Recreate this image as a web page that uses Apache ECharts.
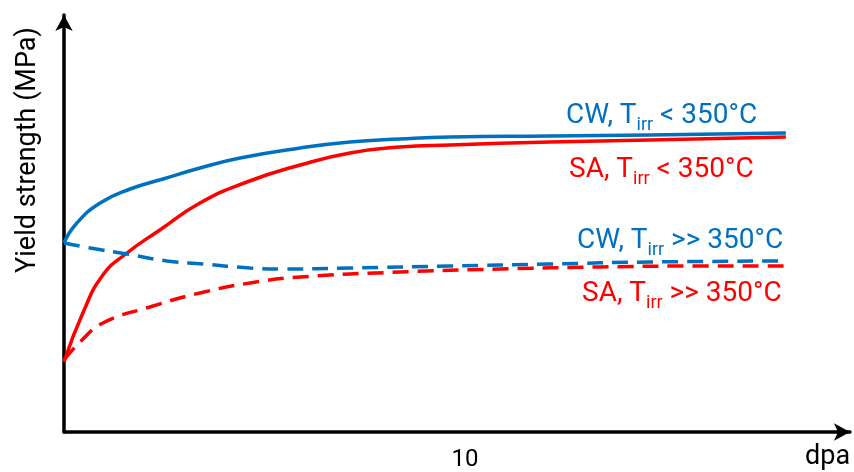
<!DOCTYPE html>
<html>
<head>
<meta charset="utf-8">
<script src="https://cdn.jsdelivr.net/npm/echarts@6/dist/echarts.min.js"></script>
<style>
  html, body { margin: 0; padding: 0; background: #fff; }
  #chart { width: 854px; height: 472px; }
</style>
</head>
<body>
<div id="chart"></div>
<script>
// [dpa, relative yield strength]
const cwLow = [[0, 189], [0.3, 208], [0.9, 229], [1.65, 243], [2.47, 253], [3.39, 264], [4.39, 274], [5.89, 284], [7.13, 290], [8.38, 293], [9.63, 295], [12.12, 296], [14.61, 297], [18.0, 299]];
const saLow = [[0, 70], [0.47, 119], [0.97, 157], [1.57, 179], [2.39, 202], [3.39, 229], [4.56, 250], [5.89, 267], [7.13, 279], [8.38, 285], [9.63, 287], [12.12, 290], [14.61, 292], [18.0, 295]];
const cwHigh = [[0, 189], [0.65, 184], [1.57, 178], [2.57, 171], [3.47, 168], [4.64, 164], [5.39, 163], [7.13, 164], [9.63, 166], [12.12, 168], [14.61, 170], [18.0, 171]];
const saHigh = [[0, 72], [0.45, 92], [0.97, 109], [2.14, 125], [3.39, 139], [4.64, 149], [5.89, 155], [8.38, 160], [10.87, 163], [13.37, 165], [15.86, 166], [18.0, 166]];
const xTicks = [10];

const BLUE = '#0070C0';
const RED = '#FF0000';
const FONT = 'Roboto, sans-serif';

const chart = echarts.init(document.getElementById('chart'));

function label(text, color, left, top) {
    return {
        type: 'text',
        left: left,
        top: top,
        style: {
            text: text,
            fill: color,
            font: '28px ' + FONT,
            rich: {
                m: {fontSize: 28, fontFamily: FONT, color: color, lineHeight: 36, verticalAlign: 'middle'},
                s: {fontSize: 18, fontFamily: FONT, color: color, lineHeight: 36, verticalAlign: 'bottom'}
            }
        }
    };
}

function line(name, data, color, dashed) {
    return {
        name: name,
        type: 'line',
        data: data,
        smooth: 0.5,
        symbol: 'none',
        lineStyle: {color: color, width: 3.5, type: dashed ? [16, 9] : 'solid'}
    };
}

chart.setOption({
    animation: false,
    grid: {left: 64, right: 4, top: 15, bottom: 40},
    xAxis: {
        type: 'value',
        min: 0,
        max: 19.6,
        interval: 10,
        splitLine: {show: false},
        axisTick: {show: false},
        axisLine: {symbol: ['none', 'arrow'], symbolSize: [13, 16], lineStyle: {color: '#000', width: 3.5}},
        axisLabel: {
            showMaxLabel: false,
            formatter: v => xTicks.includes(v) ? String(v) : '',
            color: '#000', fontSize: 24, fontFamily: FONT, margin: 16
        }
    },
    yAxis: {
        type: 'value',
        min: 0,
        max: 417,
        splitLine: {show: false},
        axisTick: {show: false},
        axisLabel: {show: false},
        axisLine: {show: true, symbol: ['none', 'arrow'], symbolSize: [13, 16], lineStyle: {color: '#000', width: 3.5}}
    },
    graphic: [
        {
            type: 'text',
            x: 28, y: 150,
            rotation: Math.PI / 2,
            style: {text: 'Yield strength (MPa)', fill: '#000', font: '27px ' + FONT, align: 'center', verticalAlign: 'middle'}
        },
        {
            type: 'text',
            left: 805, top: 444,
            style: {text: 'dpa', fill: '#000', font: '27px ' + FONT}
        },
        label('{m|CW, T}{s|irr}{m| < 350°C}', BLUE, 566, 102),
        label('{m|SA, T}{s|irr}{m| < 350°C}', RED, 569, 156),
        label('{m|CW, T}{s|irr}{m| >> 350°C}', BLUE, 577, 227),
        label('{m|SA, T}{s|irr}{m| >> 350°C}', RED, 582, 280)
    ],
    series: [
        line('CW, Tirr < 350°C', cwLow, BLUE, false),
        line('SA, Tirr < 350°C', saLow, RED, false),
        line('CW, Tirr >> 350°C', cwHigh, BLUE, true),
        line('SA, Tirr >> 350°C', saHigh, RED, true)
    ]
});
</script>
</body>
</html>
